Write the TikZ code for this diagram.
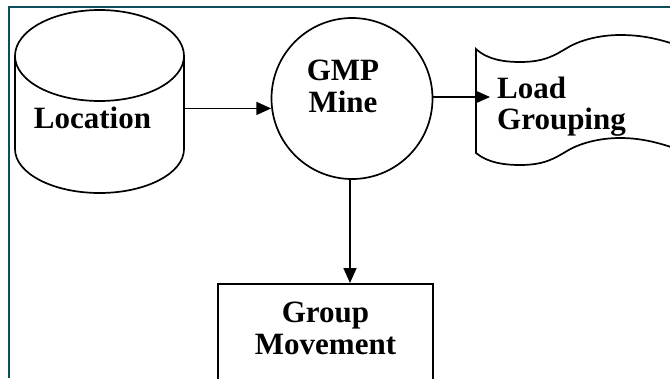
\documentclass[tikz,border=0pt]{standalone}
\usepackage{fontspec}
\setmainfont{Liberation Serif}
\usetikzlibrary{arrows.meta}
\definecolor{frameteal}{RGB}{14,78,92}
\tikzset{
  shp/.style={draw=black, line width=1.7pt},
  arr/.style={draw=black, line width=1.7pt, -{Triangle[length=15pt,width=13pt]}},
  lbl/.style={font=\bfseries\fontsize{31}{32}\selectfont, inner sep=0pt, align=center},
  frame/.style={draw=frameteal, line width=2.2pt}
}
\begin{document}
\begin{tikzpicture}[x=1pt,y=-1pt]
\useasboundingbox (0,0) rectangle (670,378);
\clip (0,0) rectangle (670,378);
\fill[white] (0,0) rectangle (670,378);
% frame
\draw[frame] (9,378) -- (9,7) -- (672,7);
% cylinder (Location)
\node[minimum width=169pt, minimum height=183pt, inner sep=0pt] (loc) at (99.5,101.5) {};
\draw[shp, fill=white] (15,56) -- (15,149) arc[start angle=180, end angle=360, x radius=84.5pt, y radius=44pt]
  -- (184,56) arc[start angle=0, end angle=180, x radius=84.5pt, y radius=46pt] -- cycle;
\draw[shp] (15,56) arc[start angle=180, end angle=360, x radius=84.5pt, y radius=45pt];
\node[lbl, anchor=base] (loct) at (92.5,128) {Location};
% circle (GMP Mine)
\node[shp, circle, minimum size=161pt, inner sep=0pt] (gmp) at (352,98.5) {};
\node[lbl] (gmpt) at (343,86) {GMP\\Mine};
% document (Load Grouping)
\draw[shp, fill=white] (476,49) .. controls (488,60) and (505,62) .. (520,62)
  .. controls (545,62) and (555,55) .. (567,48)
  .. controls (580,40) and (600,35) .. (620,35)
  .. controls (640,35) and (660,38) .. (690,50)
  -- (690,154)
  .. controls (660,142) and (640,138) .. (620,138)
  .. controls (600,138) and (580,143) .. (567,151)
  .. controls (555,158) and (545,165) .. (520,165)
  .. controls (505,165) and (488,163) .. (476,153) -- cycle;
\coordinate (loadin) at (490,97);
\node[lbl, align=left, anchor=north west, font=\bfseries\fontsize{31}{31}\selectfont] (load) at (497,76.5) {Load\\Grouping};
% box (Group Movement)
\node[shp, rectangle, minimum width=215pt, minimum height=100pt, anchor=north] (box) at (325.5,283) {};
\node[lbl] (boxt) at (325.5,328.5) {Group\\Movement};
% connectors
\draw[arr] (loc.east |- gmp.187) -- (gmp.187);
\draw[arr] (gmp.east |- loadin) -- (loadin);
\draw[arr] (gmp.south -| 350,0) -- (350,0 |- box.north);
\end{tikzpicture}
\end{document}
